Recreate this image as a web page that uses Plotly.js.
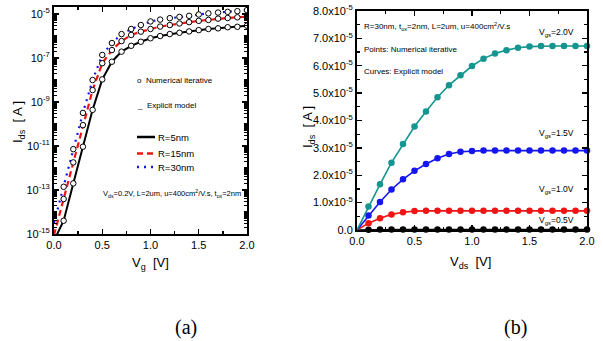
<!DOCTYPE html>
<html>
<head>
<meta charset="utf-8">
<script src="https://cdn.plot.ly/plotly-3.0.1.min.js"></script>
<style>html,body{margin:0;padding:0;background:#fff;}#chart{width:603px;height:341px;}</style>
</head>
<body>
<div id="chart"></div>
<script>
// ---------- Panel (a): Ids vs Vg (log) ----------
var vg = [0, 0.1, 0.2, 0.3, 0.4, 0.5, 0.6, 0.7, 0.8, 0.9, 1.0, 1.1, 1.2, 1.3, 1.4, 1.5, 1.6, 1.7, 1.8, 1.9, 2.0];
var idsR5 = [5.0e-16, 4.0e-15, 2.0e-13, 9.3e-12, 4.4e-10, 1.07e-8, 6.8e-8, 1.95e-7, 3.6e-7, 5.5e-7, 7.9e-7, 1.0e-6, 1.23e-6, 1.41e-6, 1.62e-6, 1.86e-6, 2.09e-6, 2.24e-6, 2.51e-6, 2.63e-6, 2.95e-6];
var idsR15 = [8.9e-16, 3.9e-14, 1.8e-12, 8.9e-11, 3.5e-9, 5.8e-8, 2.3e-7, 5.9e-7, 1.12e-6, 1.58e-6, 2.09e-6, 2.69e-6, 3.16e-6, 3.72e-6, 4.27e-6, 4.9e-6, 5.4e-6, 6.2e-6, 6.6e-6, 7.1e-6, 7.6e-6];
var idsR30 = [3.2e-15, 1.4e-13, 7.2e-12, 3.2e-10, 1.0e-8, 1.38e-7, 4.8e-7, 1.23e-6, 2.09e-6, 3.16e-6, 4.6e-6, 5.6e-6, 6.5e-6, 7.4e-6, 8.3e-6, 9.5e-6, 1.07e-5, 1.17e-5, 1.26e-5, 1.35e-5, 1.51e-5];
var aTickVals = [1e-15, 1e-13, 1e-11, 1e-9, 1e-7, 1e-5];
var aTickText = ['10<sup>-15</sup>', '10<sup>-13</sup>', '10<sup>-11</sup>', '10<sup>-9</sup>', '10<sup>-7</sup>', '10<sup>-5</sup>'];

// ---------- Panel (b): Ids vs Vds ----------
var vds = [0, 0.1, 0.2, 0.3, 0.4, 0.5, 0.6, 0.7, 0.8, 0.9, 1.0, 1.1, 1.2, 1.3, 1.4, 1.5, 1.6, 1.7, 1.8, 1.9, 2.0];
var ids20 = [0, 0.86e-5, 1.67e-5, 2.46e-5, 3.14e-5, 3.78e-5, 4.33e-5, 4.85e-5, 5.29e-5, 5.65e-5, 5.99e-5, 6.26e-5, 6.45e-5, 6.57e-5, 6.66e-5, 6.70e-5, 6.72e-5, 6.72e-5, 6.72e-5, 6.72e-5, 6.72e-5];
var ids15 = [0, 0.53e-5, 1.02e-5, 1.48e-5, 1.85e-5, 2.16e-5, 2.41e-5, 2.62e-5, 2.78e-5, 2.86e-5, 2.89e-5, 2.90e-5, 2.90e-5, 2.90e-5, 2.90e-5, 2.90e-5, 2.90e-5, 2.90e-5, 2.90e-5, 2.90e-5, 2.90e-5];
var ids10 = [0, 0.25e-5, 0.43e-5, 0.57e-5, 0.65e-5, 0.69e-5, 0.70e-5, 0.70e-5, 0.70e-5, 0.70e-5, 0.70e-5, 0.70e-5, 0.70e-5, 0.70e-5, 0.70e-5, 0.70e-5, 0.70e-5, 0.70e-5, 0.70e-5, 0.70e-5, 0.70e-5];
var ids05 = [0, 0.01e-5, 0.015e-5, 0.02e-5, 0.02e-5, 0.02e-5, 0.02e-5, 0.02e-5, 0.02e-5, 0.02e-5, 0.02e-5, 0.02e-5, 0.02e-5, 0.02e-5, 0.02e-5, 0.02e-5, 0.02e-5, 0.02e-5, 0.02e-5, 0.02e-5, 0.02e-5];
var bTickVals = [0, 1e-5, 2e-5, 3e-5, 4e-5, 5e-5, 6e-5, 7e-5, 8e-5];
var bTickText = ['0.0', '1.0x10<sup>-5</sup>', '2.0x10<sup>-5</sup>', '3.0x10<sup>-5</sup>', '4.0x10<sup>-5</sup>', '5.0x10<sup>-5</sup>', '6.0x10<sup>-5</sup>', '7.0x10<sup>-5</sup>', '8.0x10<sup>-5</sup>'];
var xTickText = ['0.0', '0.5', '1.0', '1.5', '2.0'];

var W = 603, H = 341;
function px(x) { return x / W; }
function py(y) { return 1 - y / H; }

var FONT = 'Liberation Sans Narrow, Arial Narrow, Liberation Sans, Arial, sans-serif';
var TFONT = 'Liberation Sans, Arial, sans-serif';

var teal = '#14958f', blue = '#1515f0', red = '#f01414';

var traces = [];
// panel a lines (explicit model)
traces.push({x: vg, y: idsR5, mode: 'lines', line: {color: '#000', width: 2}, xaxis: 'x', yaxis: 'y', showlegend: false});
traces.push({x: vg, y: idsR15, mode: 'lines', line: {color: red, width: 2.2, dash: '6px,4px'}, xaxis: 'x', yaxis: 'y', showlegend: false});
traces.push({x: vg, y: idsR30, mode: 'lines', line: {color: blue, width: 2.2, dash: '2px,5px'}, xaxis: 'x', yaxis: 'y', showlegend: false});
// panel a markers (numerical iterative)
[idsR5, idsR15, idsR30].forEach(function (arr) {
  traces.push({x: vg.slice(1), y: arr.slice(1), mode: 'markers', marker: {symbol: 'circle', size: 5.5, color: '#fff', line: {color: '#000', width: 1}}, xaxis: 'x', yaxis: 'y', showlegend: false, cliponaxis: true});
});
// panel b
[[ids05, '#000'], [ids10, red], [ids15, blue], [ids20, teal]].forEach(function (p) {
  traces.push({x: vds, y: p[0], mode: 'lines', line: {color: p[1], width: 1.6}, xaxis: 'x2', yaxis: 'y2', showlegend: false});
  traces.push({x: vds.slice(1), y: p[0].slice(1), mode: 'markers', marker: {symbol: 'circle', size: 6.5, color: p[1]}, xaxis: 'x2', yaxis: 'y2', showlegend: false, cliponaxis: false});
});

// minor log ticks for panel a
var minorLog = [];
for (var e = -15; e <= -5; e++) { for (var m = 1; m <= 9; m++) { minorLog.push(m * Math.pow(10, e)); } }

var axCommon = {showline: true, linewidth: 2, linecolor: '#000', mirror: 'ticks', ticks: 'inside', ticklen: 5, tickwidth: 1.3, tickcolor: '#000', showgrid: false, zeroline: false, tickfont: {family: TFONT, size: 11, color: '#000'}};
function ax(o) { var r = JSON.parse(JSON.stringify(axCommon)); for (var k in o) r[k] = o[k]; return r; }

var ann = [];
function A(text, x, y, o) {
  var a = {text: text, x: px(x), y: py(y), xref: 'paper', yref: 'paper', showarrow: false, xanchor: 'left', yanchor: 'middle', font: {family: FONT, size: 8, color: '#000'}};
  for (var k in o) a[k] = o[k];
  ann.push(a);
}
// panel a texts
A('o  Numerical iterative', 135, 80);
A('_  Explicit model', 135, 106);
A('R=5nm', 156, 137, {font: {family: FONT, size: 9.5, color: '#000'}});
A('R=15nm', 156, 153.5, {font: {family: FONT, size: 9.5, color: '#000'}});
A('R=30nm', 156, 167, {font: {family: FONT, size: 9.5, color: '#000'}});
A('V<sub>ds</sub>=0.2V, L=2um, u=400cm<sup>2</sup>/V.s, t<sub>ox</sub>=2nm', 101, 193, {font: {family: FONT, size: 7.5, color: '#000'}});
A('I<sub>ds</sub>  [ A ]', 18, 122, {textangle: -90, xanchor: 'center', font: {family: TFONT, size: 13, color: '#000'}});
A('V<sub>g</sub>  [V]', 150, 263, {xanchor: 'center', font: {family: TFONT, size: 13, color: '#000'}});
A('(a)', 186, 327, {xanchor: 'center', font: {family: 'Liberation Serif, Times New Roman, serif', size: 20, color: '#000'}});
// panel b texts
A('R=30nm, t<sub>ox</sub>=2nm, L=2um, u=400cm<sup>2</sup>/V.s', 362, 26);
A('Points: Numerical iterative', 362, 50);
A('Curves: Explicit model', 362, 71);
A('V<sub>gs</sub>=2.0V', 537, 32, {font: {family: FONT, size: 8.5, color: '#000'}});
A('V<sub>gs</sub>=1.5V', 537, 133, {font: {family: FONT, size: 8.5, color: '#000'}});
A('V<sub>gs</sub>=1.0V', 537, 190, {font: {family: FONT, size: 8.5, color: '#000'}});
A('V<sub>gs</sub>=0.5V', 537, 220, {font: {family: FONT, size: 8.5, color: '#000'}});
A('I<sub>ds</sub>  [ A ]', 308, 127, {textangle: -90, xanchor: 'center', font: {family: TFONT, size: 13, color: '#000'}});
A('V<sub>ds</sub>  [V]', 470, 262, {xanchor: 'center', font: {family: TFONT, size: 13, color: '#000'}});
A('(b)', 515, 327, {xanchor: 'center', font: {family: 'Liberation Serif, Times New Roman, serif', size: 20, color: '#000'}});

var shapes = [
  {type: 'line', xref: 'paper', yref: 'paper', x0: px(137), x1: px(155), y0: py(137), y1: py(137), line: {color: '#000', width: 2.5}},
  {type: 'line', xref: 'paper', yref: 'paper', x0: px(137), x1: px(155), y0: py(153.5), y1: py(153.5), line: {color: red, width: 2.5, dash: '6px,4px'}},
  {type: 'line', xref: 'paper', yref: 'paper', x0: px(137), x1: px(155), y0: py(167), y1: py(167), line: {color: blue, width: 2.5, dash: '2px,5px'}}
];

var layout = {
  width: W, height: H, margin: {l: 0, r: 0, t: 0, b: 0},
  paper_bgcolor: '#fff', plot_bgcolor: '#fff', showlegend: false,
  xaxis: ax({domain: [px(54), px(247)], range: [0, 2], anchor: 'y', tickvals: [0, 0.5, 1, 1.5, 2], ticktext: xTickText, minor: {tickmode: 'linear', tick0: 0, dtick: 0.25, ticks: 'inside', ticklen: 3, tickcolor: '#000'}}),
  yaxis: ax({domain: [py(234), py(7)], type: 'log', range: [-15, -4.68], anchor: 'x', tickmode: 'array', tickvals: aTickVals, ticktext: aTickText, minor: {tickmode: 'array', tickvals: minorLog, ticks: 'inside', ticklen: 3, tickcolor: '#000'}}),
  xaxis2: ax({domain: [px(357), px(587)], range: [0, 2], anchor: 'y2', tickvals: [0, 0.5, 1, 1.5, 2], ticktext: xTickText, minor: {tickmode: 'linear', tick0: 0, dtick: 0.25, ticks: 'inside', ticklen: 3, tickcolor: '#000'}}),
  yaxis2: ax({domain: [py(230), py(11)], range: [0, 8e-5], anchor: 'x2', tickmode: 'array', tickvals: bTickVals, ticktext: bTickText, minor: {tickmode: 'linear', tick0: 0, dtick: 0.5e-5, ticks: 'inside', ticklen: 3, tickcolor: '#000'}}),
  annotations: ann,
  shapes: shapes
};

Plotly.newPlot('chart', traces, layout, {staticPlot: true, displayModeBar: false});
</script>
</body>
</html>
